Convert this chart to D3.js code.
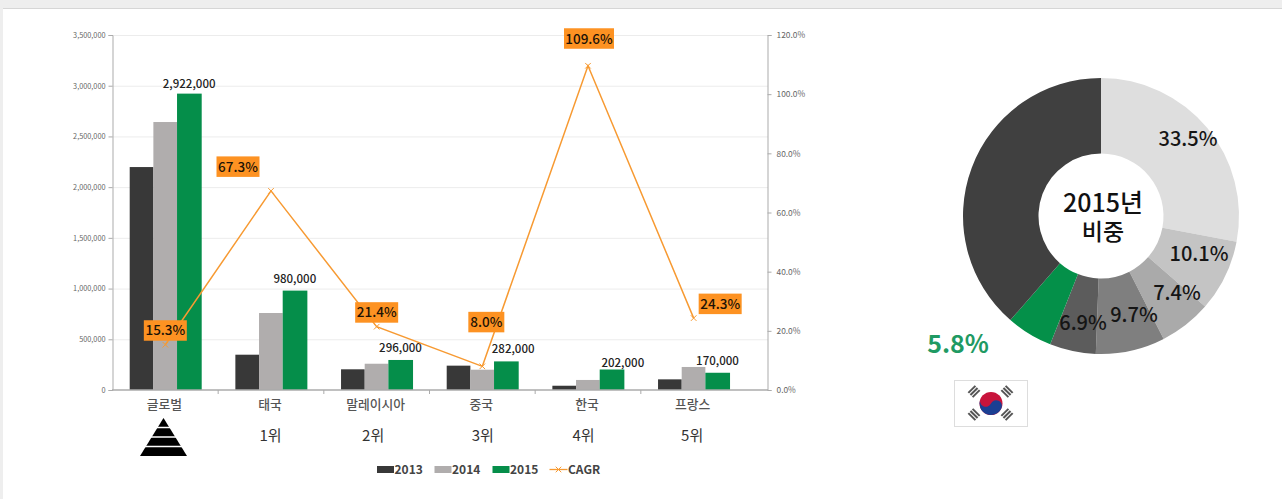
<!DOCTYPE html>
<html>
<head>
<meta charset="utf-8">
<script src="https://cdnjs.cloudflare.com/ajax/libs/d3/7.8.5/d3.min.js"></script>
<style>
  html, body { margin: 0; padding: 0; background: #fff; overflow: hidden; }
  text { font-family: "Noto Sans CJK KR", "Noto Sans", sans-serif; }
</style>
</head>
<body>
<svg width="1282" height="499"></svg>
<script>
var categories = ['글로벌', '태국', '말레이시아', '중국', '한국', '프랑스'];
var ranks = ['', '1위', '2위', '3위', '4위', '5위'];
var years = ['2013', '2014', '2015'];
var values2013 = [2198000, 348000, 204000, 240000, 42000, 105000];
var values2014 = [2642000, 759000, 259000, 200000, 99000, 227000];
var values2015 = [2922000, 980000, 296000, 282000, 202000, 170000];
var cagr = [15.3, 67.3, 21.4, 8.0, 109.6, 24.3];
var leftTicks = [0, 500000, 1000000, 1500000, 2000000, 2500000, 3000000, 3500000];
var rightTicks = [0, 20, 40, 60, 80, 100, 120];

// slice sizes as drawn, the printed labels do not add up to the same thing
var shareSlices = [28.0, 8.4, 6.1, 8.1, 5.4, 5.4, 38.6];
var shareLabels = ['33.5%', '10.1%', '7.4%', '9.7%', '6.9%', '5.8%', ''];

var barColors = ['#383838', '#b0adad', '#058e4a'];
var orange = '#f79a32';

var svg = d3.select('svg');

// page frame
svg.append('rect').attr('width', 1282).attr('height', 9).attr('fill', '#eeeeee');
svg.append('rect').attr('width', 3).attr('height', 499).attr('fill', '#eeeeee');
svg.append('rect').attr('x', 3).attr('y', 8).attr('width', 1279).attr('height', 1).attr('fill', '#d6d6d6');

var x = d3.scaleBand().domain(categories).range([112, 746]);
var xYear = d3.scaleBand().domain(years).range([0, 71]);
var y = d3.scaleLinear().domain([0, 3500000]).range([390, 35]);
var yRight = d3.scaleLinear().domain([0, 120]).range([390, 35]);

// grid
svg.append('g').selectAll('line').data(leftTicks.slice(1)).join('line')
  .attr('x1', 112).attr('x2', 768)
  .attr('y1', function(d) { return y(d) + 0.5; })
  .attr('y2', function(d) { return y(d) + 0.5; })
  .attr('stroke', '#ececec');

// bars
var seriesValues = [values2013, values2014, values2015];
seriesValues.forEach(function(vals, s) {
  svg.append('g').selectAll('rect').data(vals).join('rect')
    .attr('x', function(d, i) { return x(categories[i]) + 17.7 + xYear(years[s]); })
    .attr('y', function(d) { return y(d); })
    .attr('width', xYear.bandwidth() + (s == 2 ? 1 : 0))
    .attr('height', function(d) { return 390 - y(d); })
    .attr('fill', barColors[s]);
});

// axes
var leftAxis = svg.append('g').attr('transform', 'translate(112.5,0)')
  .call(d3.axisLeft(y).tickValues(leftTicks).tickSize(4).tickFormat(d3.format(',')));
var rightAxis = svg.append('g').attr('transform', 'translate(767.5,0)')
  .call(d3.axisRight(yRight).tickValues(rightTicks).tickSize(4).tickPadding(5).tickFormat(function(d) { return d.toFixed(1) + '%'; }));
[leftAxis, rightAxis].forEach(function(a) {
  a.selectAll('path,line').attr('stroke', '#ababab');
  a.selectAll('text').attr('fill', '#666');
  a.selectAll('path').attr('stroke-width', 1);
});
leftAxis.selectAll('text').attr('font-size', '7.3px');
rightAxis.selectAll('text').attr('font-size', '8.4px');

svg.append('line').attr('x1', 112).attr('x2', 768).attr('y1', 390).attr('y2', 390)
  .attr('stroke', '#ababab').attr('stroke-width', 1.4);
svg.append('g').selectAll('line').data(categories.slice(1)).join('line')
  .attr('x1', function(d) { return x(d) + 0.5; })
  .attr('x2', function(d) { return x(d) + 0.5; })
  .attr('y1', 390).attr('y2', 394)
  .attr('stroke', '#ababab');

svg.append('g').selectAll('text').data(categories).join('text')
  .attr('x', function(d) { return x(d) + x.bandwidth() / 2 - 0.5; })
  .attr('y', 405).attr('dy', '.35em')
  .attr('text-anchor', 'middle').attr('font-size', '12.8px').attr('font-weight', 500).attr('fill', '#555')
  .text(function(d) { return d; });

var rankShift = [0, 0, -3, 1, -4, -1];
svg.append('g').selectAll('text').data(ranks).join('text')
  .attr('x', function(d, i) { return x(categories[i]) + x.bandwidth() / 2 + rankShift[i]; })
  .attr('y', 436).attr('dy', '.35em')
  .attr('text-anchor', 'middle').attr('font-size', '15px').attr('fill', '#333')
  .text(function(d) { return d; });

// pyramid under the first category
var pyramid = svg.append('g');
pyramid.append('path').attr('d', d3.line()([[163.5, 418], [187, 456], [140, 456]]) + 'Z').attr('fill', '#000');
[427.5, 437, 446.5].forEach(function(py) {
  pyramid.append('line').attr('x1', 135).attr('x2', 192).attr('y1', py).attr('y2', py)
    .attr('stroke', '#fff').attr('stroke-width', 1.3);
});

// value labels on the 2015 bars
var valueShiftX = [0, 0, 0, 7, 11, 0];
var valueShiftY = [-6, -7.5, -8, -8, -3, -8];
svg.append('g').selectAll('text').data(values2015).join('text')
  .attr('x', function(d, i) { return x(categories[i]) + 18 + xYear('2015') + xYear.bandwidth() / 2 + valueShiftX[i]; })
  .attr('y', function(d, i) { return y(d) + valueShiftY[i]; })
  .attr('text-anchor', 'middle').attr('font-size', '11.5px').attr('font-weight', 500).attr('fill', '#222')
  .text(d3.format(','));

// CAGR line
var cagrX = function(i) { return x(categories[i]) + x.bandwidth() / 2 + 0.5; };
svg.append('path').datum(cagr)
  .attr('fill', 'none').attr('stroke', orange).attr('stroke-width', 1.5)
  .attr('d', d3.line().x(function(d, i) { return cagrX(i); }).y(function(d) { return yRight(d); }));
var times = d3.symbol().type(d3.symbolTimes).size(22);
svg.append('g').selectAll('path').data(cagr).join('path')
  .attr('transform', function(d, i) { return 'translate(' + cagrX(i) + ',' + yRight(d) + ')'; })
  .attr('d', times).attr('fill', 'none').attr('stroke', orange);

// orange tags, moved off the points by hand
var tagShiftX = [0, -33, 0, 4, 1, 26.5];
var tagShiftY = [-14, -24, -14, -44, -27, -14];
var tags = svg.append('g').selectAll('g').data(cagr).join('g')
  .attr('transform', function(d, i) {
    return 'translate(' + (cagrX(i) + tagShiftX[i]) + ',' + (yRight(d) + tagShiftY[i]) + ')';
  });
tags.append('rect')
  .attr('x', function(d) { return d >= 100 ? -25 : (d < 10 ? -18 : -21.5); })
  .attr('y', -10.5)
  .attr('width', function(d) { return d >= 100 ? 50 : (d < 10 ? 36 : 43); })
  .attr('height', 20.5)
  .attr('fill', '#fd9222');
tags.append('text').attr('text-anchor', 'middle').attr('dy', '.35em')
  .attr('font-size', '13.5px').attr('font-weight', 500).attr('fill', '#1c1306')
  .text(function(d) { return d.toFixed(1) + '%'; });

// legend
var legendX = [377, 434.5, 492.5];
years.forEach(function(yr, i) {
  svg.append('rect').attr('x', legendX[i]).attr('y', 466).attr('width', 17).attr('height', 7).attr('fill', barColors[i]);
  svg.append('text').attr('x', legendX[i] + 17.5).attr('y', 469.5).attr('dy', '.35em')
    .attr('font-size', '12px').attr('font-weight', 700).attr('fill', '#444').text(yr);
});
svg.append('line').attr('x1', 549.5).attr('x2', 567.5).attr('y1', 469.5).attr('y2', 469.5).attr('stroke', orange).attr('stroke-width', 1.3);
svg.append('path').attr('transform', 'translate(558.5,469.5)').attr('d', times).attr('fill', 'none').attr('stroke', orange);
svg.append('text').attr('x', 568).attr('y', 469.5).attr('dy', '.35em')
  .attr('font-size', '12px').attr('font-weight', 700).attr('fill', '#444').text('CAGR');

// donut
var sliceColors = ['#dedede', '#c4c4c4', '#aaaaaa', '#7f7f7f', '#5c5c5c', '#049049', '#404040'];
var pie = d3.pie().sort(null);
var arc = d3.arc().innerRadius(62.5).outerRadius(138);
var donut = svg.append('g').attr('transform', 'translate(1101,216)');
donut.selectAll('path').data(pie(shareSlices)).join('path')
  .attr('d', arc)
  .attr('fill', function(d, i) { return sliceColors[i]; });

var labelX = [87, 98, 76, 33, -18, -143];
var labelY = [-77, 38, 77, 99, 107, 128];
donut.selectAll('text.share').data(shareLabels.slice(0, 6)).join('text')
  .attr('class', 'share')
  .attr('x', function(d, i) { return labelX[i]; })
  .attr('y', function(d, i) { return labelY[i]; })
  .attr('dy', '.35em')
  .attr('text-anchor', 'middle')
  .attr('font-size', function(d, i) { return i == 5 ? '25px' : '20px'; })
  .attr('font-weight', function(d, i) { return i == 5 ? 700 : 500; })
  .attr('fill', function(d, i) { return i == 5 ? '#1f9a63' : '#151515'; })
  .text(function(d) { return d; });

// centre caption, one text with two lines
var caption = donut.append('text').attr('text-anchor', 'middle')
  .attr('font-weight', 500).attr('fill', '#111');
caption.append('tspan').attr('x', 2).attr('y', -13).attr('dy', '.35em').attr('font-size', '25px').text('2015년');
caption.append('tspan').attr('x', 2).attr('y', 16).attr('dy', '.35em').attr('font-size', '23px').text('비중');

// flag
var flag = svg.append('g').attr('transform', 'translate(991,403.5)');
flag.append('rect').attr('x', -36.5).attr('y', -23).attr('width', 73).attr('height', 46)
  .attr('fill', '#fff').attr('stroke', '#dddddd');
flag.append('circle').attr('r', 11.5).attr('fill', '#c8143c');
flag.append('path').attr('transform', 'rotate(25)')
  .attr('d', 'M-11.5,0 A5.75,5.75 0 0 0 0,0 A5.75,5.75 0 0 1 11.5,0 A11.5,11.5 0 0 1 -11.5,0Z')
  .attr('fill', '#1b3f93');
[[-17, -12, -45], [16, -12, 45], [-17, 11, 45], [16, 11, -45]].forEach(function(t) {
  var tri = flag.append('g').attr('transform', 'translate(' + t[0] + ',' + t[1] + ') rotate(' + t[2] + ')');
  [-3, 0, 3].forEach(function(o) {
    tri.append('rect').attr('x', -5).attr('y', o - 1).attr('width', 10).attr('height', 2).attr('fill', '#555');
  });
});
</script>
</body>
</html>
